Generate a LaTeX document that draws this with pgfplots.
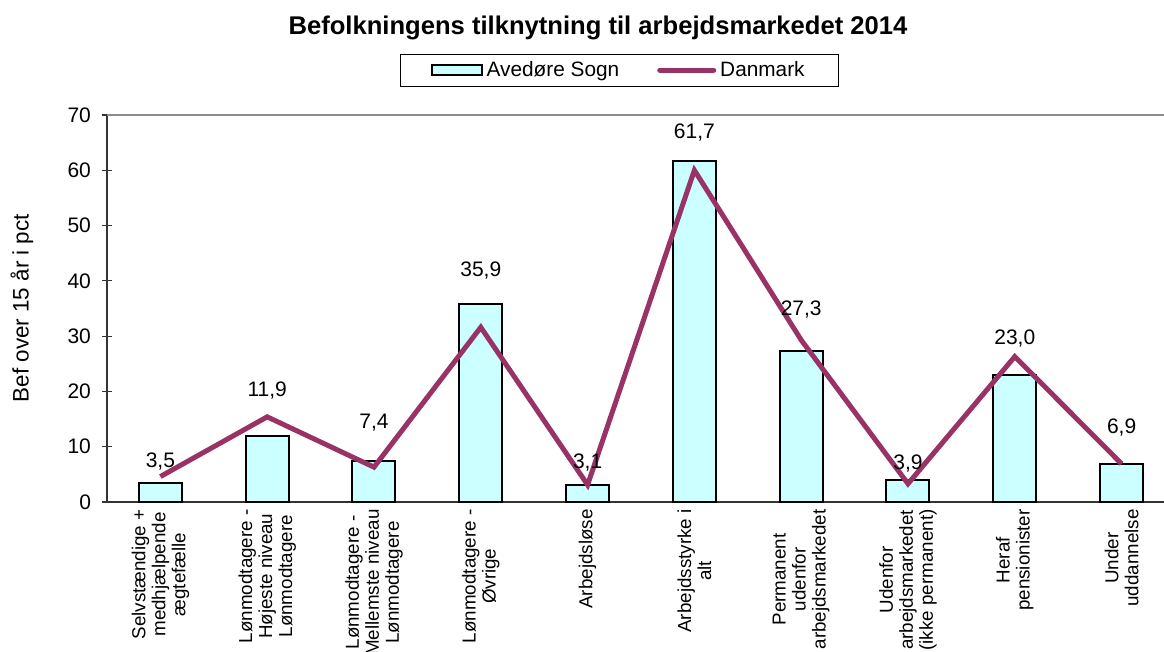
\documentclass[border=0pt]{standalone}
\usepackage{pgfplots}
\pgfplotsset{compat=1.18}
\usepackage{fontspec}
\setmainfont{Liberation Sans}
\definecolor{barfill}{HTML}{CCFFFF}
\definecolor{dkline}{HTML}{993366}
\begin{document}
\begin{tikzpicture}
\useasboundingbox (0,0) rectangle (582pt,326pt);
\node[font=\fontsize{12.8}{14}\selectfont\bfseries] at (299pt,312pt) {Befolkningens tilknytning til arbejdsmarkedet 2014};
\begin{axis}[
  at={(53.5pt,75pt)}, anchor=south west,
  scale only axis, width=534pt, height=193.5pt,
  xmin=-0.5, xmax=9.5, ymin=0, ymax=70,
  axis x line*=bottom, axis y line*=left,
  axis line style={draw=black!80, line width=0.9pt, -},
  /pgf/number format/assume math mode=true,
  ytick={0,10,...,70},
  tick style={draw=black!80, line width=0.6pt},
  tick align=center,
  major tick length=5pt,
  minor tick length=5pt,
  xtick={0,...,9},
  x tick style={draw=none},
  minor xtick={-0.5,0.5,...,9.5},
  xticklabels={
    {Selvstændige +\\medhjælpende\\ægtefælle},
    {Lønmodtagere -\\Højeste niveau\\Lønmodtagere},
    {Lønmodtagere -\\Mellemste niveau\\Lønmodtagere},
    {Lønmodtagere -\\Øvrige},
    {Arbejdsløse},
    {Arbejdsstyrke i\\alt},
    {Permanent\\udenfor\\arbejdsmarkedet},
    {Udenfor\\arbejdsmarkedet\\(ikke permanent)},
    {Heraf\\pensionister},
    {Under\\uddannelse}},
  xticklabel style={rotate=90, anchor=east, align=center, font=\fontsize{9.4}{10}\selectfont, inner sep=1pt},
  yticklabel style={font=\fontsize{10.5}{12}\selectfont, xshift=-2pt},
  ylabel={Bef over 15 år i pct},
  ylabel style={font=\fontsize{11.2}{13}\selectfont, at={(axis description cs:-0.0796,0.501)}, anchor=center},
  legend columns=2,
  legend style={at={(axis description cs:0.480,1.116)}, anchor=center, draw=black, line width=0.5pt,
    font=\fontsize{10.4}{12}\selectfont, inner xsep=15pt, inner ysep=1.5pt,
    /tikz/every even column/.append style={column sep=17pt}},
  clip=false,
]
\draw[black!45, line width=1pt] (rel axis cs:0,1) -- (rel axis cs:1,1);
\addplot[ybar, bar width=21.5pt, fill=barfill, draw=black, line width=1pt,
  legend image code/.code={\draw[fill=barfill, draw=black, line width=1pt] (0pt,-2.7pt) rectangle (25pt,2.7pt);}]
  coordinates {(0,3.5) (1,11.9) (2,7.4) (3,35.9) (4,3.1) (5,61.7) (6,27.3) (7,3.9) (8,23.0) (9,6.9)};
\addlegendentry{Avedøre Sogn}
\addplot[dkline, line width=2.5pt, mark=none,
  legend image code/.code={\draw[dkline, line width=2.5pt, line cap=round] (0pt,0pt) -- (27pt,0pt);}]
  coordinates {(0,4.6) (1,15.4) (2,6.3) (3,31.6) (4,3.1) (5,60.0) (6,29.3) (7,3.3) (8,26.3) (9,6.9)};
\addlegendentry{Danmark}
\addplot[draw=none, mark=none, nodes near coords, point meta=explicit symbolic,
  every node near coord/.append style={anchor=center, font=\fontsize{10.5}{12}\selectfont}, forget plot]
  coordinates {(0,7.4)[3,5] (1,20.1)[11,9] (2,14.3)[7,4] (3,41.8)[35,9] (4,7.2)[3,1] (5,66.9)[61,7] (6,34.9)[27,3] (7,6.9)[3,9] (8,29.5)[23,0] (9,13.4)[6,9]};
\end{axis}
\end{tikzpicture}
\end{document}
